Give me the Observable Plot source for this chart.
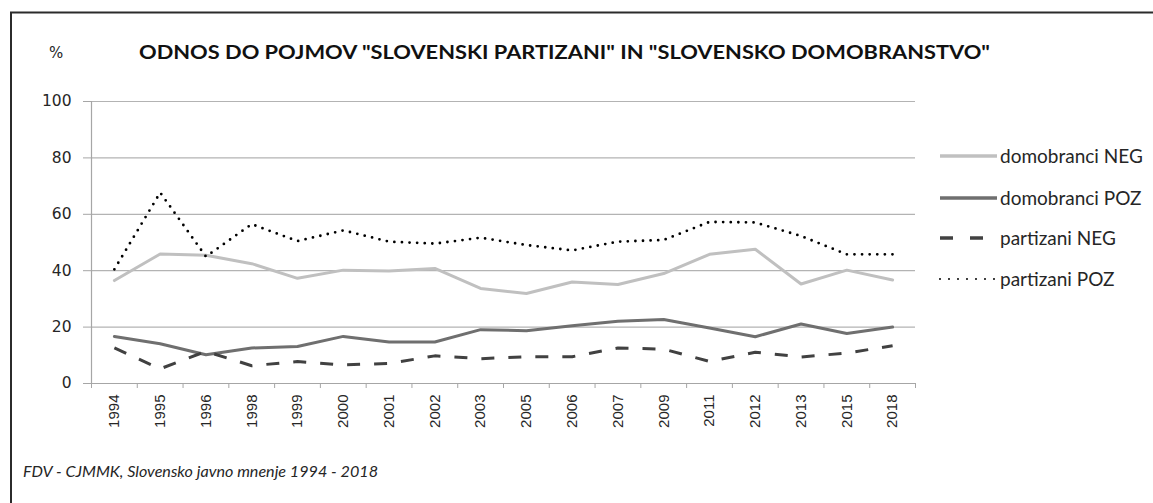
<!DOCTYPE html>
<html><head><meta charset="utf-8">
<script src="https://cdn.jsdelivr.net/npm/d3@7"></script>
<script src="https://cdn.jsdelivr.net/npm/@observablehq/plot@0.6"></script>
<style>
body{margin:0;background:#fff;}
#chart svg{display:block;}
</style>
</head><body><div id="chart"></div>
<script>
const titleText = 'ODNOS DO POJMOV "SLOVENSKI PARTIZANI" IN "SLOVENSKO DOMOBRANSTVO"';
const unitText = "%";
const captionText = "FDV - CJMMK, Slovensko javno mnenje 1994 - 2018";
const years = ["1994","1995","1996","1998","1999","2000","2001","2002","2003","2005","2006","2007","2009","2011","2012","2013","2015","2018"];
const yTicks = [0, 20, 40, 60, 80, 100];
const seriesNames = ["domobranci NEG", "domobranci POZ", "partizani NEG", "partizani POZ"];
const domobranciNEG = [36.5, 45.9, 45.5, 42.5, 37.3, 40.2, 39.9, 40.8, 33.7, 31.9, 36.0, 35.1, 39.0, 45.8, 47.6, 35.3, 40.2, 36.7];
const domobranciPOZ = [16.7, 14.1, 10.2, 12.6, 13.1, 16.7, 14.7, 14.7, 19.1, 18.7, 20.5, 22.1, 22.7, 19.7, 16.6, 21.1, 17.7, 20.0];
const partizaniNEG  = [12.6, 5.2, 11.4, 6.3, 7.8, 6.6, 7.1, 9.8, 8.8, 9.5, 9.5, 12.6, 12.2, 7.8, 11.1, 9.4, 10.8, 13.4];
const partizaniPOZ  = [40.5, 67.7, 45.0, 56.5, 50.5, 54.3, 50.3, 49.6, 51.7, 49.1, 47.2, 50.3, 50.9, 57.3, 57.1, 52.3, 45.8, 45.8];

const styles = [
  {color:"#c0c0c0", width:3, dash:null, cap:"round", kind:"solid"},
  {color:"#6f6f6f", width:3, dash:null, cap:"round", kind:"solid"},
  {color:"#414141", width:3, dash:"13,14", cap:"butt", kind:"dash"},
  {color:"#000000", width:2.8, dash:"0,7.6", cap:"round", kind:"dot"}
];
const seriesValues = [domobranciNEG, domobranciPOZ, partizaniNEG, partizaniPOZ];
const series = seriesNames.map((name, k) => ({name, values: seriesValues[k], ...styles[k]}));

const W = 1153, H = 503;
const chart = Plot.plot({
  width: W, height: H,
  marginLeft: 91, marginRight: 238, marginTop: 101, marginBottom: 120,
  style: {fontFamily: "'Liberation Sans', Arial, sans-serif", fontSize: "15px", color: "#262626", background: "#fff"},
  x: {type: "linear", domain: [-0.5, years.length - 0.5], axis: null},
  y: {domain: [0, 100], axis: null},
  marks: [
    Plot.gridY(yTicks.filter(d => d > 0), {stroke: "#b3b3b3", strokeOpacity: 1, strokeWidth: 1.2}),
    Plot.axisY({ticks: yTicks, tickSize: 8, tickPadding: 12, label: null, stroke: "#a6a6a6", fontSize: 15.5, fontFamily: "'DejaVu Sans', sans-serif", fill: "#262626"}),
    Plot.axisX({ticks: d3.range(years.length + 1).map(k => k - 0.5), tickSize: 5, tickFormat: () => "", label: null, stroke: "#a6a6a6"}),
    Plot.axisX({ticks: d3.range(years.length), tickSize: 0, tickPadding: 11, tickRotate: -90, tickFormat: i => years[i], label: null, fontSize: 15, fill: "#262626"}),
    Plot.ruleY([0], {stroke: "#a6a6a6", strokeWidth: 1.2}),
    Plot.ruleX([-0.5], {y1: 0, y2: 100, stroke: "#a6a6a6", strokeWidth: 1.2}),
    ...series.map(s => Plot.line(years.map((y, i) => ({i, v: s.values[i]})), {
      x: "i", y: "v", stroke: s.color, strokeWidth: s.width,
      strokeDasharray: s.dash, strokeLinecap: s.cap, strokeLinejoin: "round"
    }))
  ]
});
document.getElementById("chart").appendChild(chart);

// Decorations: frame, title, unit, legend, caption
const svg = d3.select(chart);
const deco = svg.append("g").attr("text-anchor", "start");
deco.append("path").attr("d", `M11,${H} V12.5 H${W}`).attr("fill", "none").attr("stroke", "#2b2b2b").attr("stroke-width", 2);
deco.append("text").text(unitText).attr("x", 49).attr("y", 58)
  .attr("font-family", "'DejaVu Sans', sans-serif").attr("font-size", 15).attr("fill", "#262626");
deco.append("text").text(titleText).attr("x", 139).attr("y", 59)
  .attr("font-family", "Lato, sans-serif").attr("font-weight", "bold").attr("font-size", 18.5)
  .attr("textLength", 851).attr("lengthAdjust", "spacingAndGlyphs").attr("fill", "#111");
const legendY = [156, 198, 238, 279];
series.forEach((s, k) => {
  const g = deco.append("g").attr("transform", `translate(0,${legendY[k]})`);
  const isDash = s.kind === "dash";
  const isDot = s.kind === "dot";
  g.append("line").attr("x1", 940).attr("x2", isDash ? 984 : 997).attr("y1", 0).attr("y2", 0)
    .attr("stroke", s.color).attr("stroke-width", isDot ? 2 : 3.4)
    .attr("stroke-dasharray", isDash ? "13,17" : (isDot ? "0,9" : null))
    .attr("stroke-linecap", isDot ? "round" : "butt");
  g.append("text").text(s.name).attr("x", 1000).attr("y", 0).attr("dy", "0.35em")
    .attr("font-family", "Lato, sans-serif").attr("font-size", 19).attr("fill", "#262626");
});
deco.append("text").text(captionText).attr("x", 23).attr("y", 477)
  .attr("font-family", "Lato, sans-serif").attr("font-style", "italic").attr("font-size", 16)
  .attr("textLength", 355).attr("lengthAdjust", "spacingAndGlyphs").attr("fill", "#262626");
</script>
</body></html>
